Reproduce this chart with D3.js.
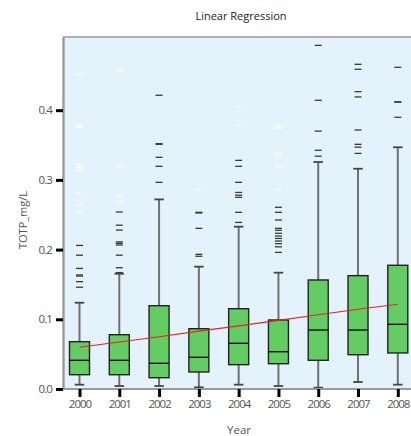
<!DOCTYPE html>
<html>
<head>
<meta charset="utf-8">
<script src="https://cdn.jsdelivr.net/npm/d3@7"></script>
<style>
  html, body { margin: 0; padding: 0; background: #fff; }
  svg { display: block; }
  text { font-family: "Open Sans", "Noto Sans", sans-serif; }
</style>
</head>
<body>
<svg id="chart" width="411" height="436"></svg>
<script>
// Annual TOTP concentration summaries (mg/L)
const years = ["2000", "2001", "2002", "2003", "2004", "2005", "2006", "2007", "2008"];
const whiskerLow  = [0.0062, 0.0043, 0.0043, 0.0024, 0.0062, 0.0043, 0.0019, 0.0100, 0.0062];
const quartile1   = [0.0205, 0.0205, 0.0162, 0.0244, 0.0349, 0.0363, 0.0412, 0.0492, 0.0517];
const medians     = [0.0412, 0.0412, 0.0369, 0.0455, 0.0656, 0.0535, 0.0846, 0.0846, 0.0928];
const quartile3   = [0.0679, 0.0779, 0.1195, 0.0865, 0.1152, 0.0990, 0.1564, 0.1626, 0.1775];
const whiskerHigh = [0.1238, 0.1654, 0.2720, 0.1755, 0.2329, 0.1669, 0.3257, 0.3160, 0.3468];

// Outliers beyond the whiskers
const outliers = [
  [0.206, 0.192, 0.173, 0.1636, 0.162, 0.154, 0.146],
  [0.254, 0.235, 0.228, 0.211, 0.209, 0.2066, 0.192, 0.174, 0.167],
  [0.4214, 0.352, 0.351, 0.3324, 0.3195, 0.2965],
  [0.2535, 0.2525, 0.2305, 0.1932, 0.1904],
  [0.328, 0.3195, 0.2965, 0.282, 0.278, 0.275, 0.2535, 0.239],
  [0.2607, 0.2535, 0.2425, 0.2305, 0.2277, 0.2234, 0.2195, 0.216, 0.2123, 0.2085, 0.204, 0.196],
  [0.493, 0.4142, 0.370, 0.3425, 0.334],
  [0.4658, 0.4587, 0.4266, 0.419, 0.3716, 0.351, 0.347, 0.338],
  [0.4615, 0.412, 0.4115, 0.3898]
];

// Extreme values, drawn as pale marks
const extremes = [
  [0.4515, 0.378, 0.376, 0.322, 0.318, 0.314, 0.282, 0.264, 0.254],
  [0.4596, 0.4567, 0.320, 0.277, 0.269],
  [],
  [0.2865],
  [0.404, 0.378],
  [0.3773, 0.374, 0.338, 0.334, 0.319, 0.2865],
  [],
  [],
  []
];

// Fitted linear trend at each year
const trend = [0.0598, 0.0674, 0.0750, 0.0830, 0.0905, 0.0985, 0.1065, 0.1143, 0.1215];

const yTicks = [0, 0.1, 0.2, 0.3, 0.4];

const plot = { left: 63, top: 37, right: 420, bottom: 389 };

const svg = d3.select("#chart");

const x = d3.scalePoint().domain(years).range([79.5, 397.8]);
const y = d3.scaleLinear().domain([0, 0.505]).range([plot.bottom, plot.top]);

// Plot background
svg.append("rect")
  .attr("x", plot.left).attr("y", plot.top)
  .attr("width", plot.right - plot.left).attr("height", plot.bottom - plot.top)
  .attr("fill", "#e4f2fb");

// Frame: top border and left/bottom axis lines
svg.append("line")
  .attr("x1", plot.left).attr("x2", plot.right)
  .attr("y1", plot.top).attr("y2", plot.top)
  .attr("stroke", "#9a9a9a").attr("stroke-width", 1.6);

const rows = years.map((yr, i) => ({
  year: yr, lo: whiskerLow[i], q1: quartile1[i], med: medians[i],
  q3: quartile3[i], hi: whiskerHigh[i], out: outliers[i], ext: extremes[i]
}));

const boxW = 20, capW = 9.5, dashW = 7;

const g = svg.append("g");

// Pale extreme marks
rows.forEach(d => {
  g.selectAll(null).data(d.ext).enter().append("line")
    .attr("x1", x(d.year) - dashW / 2).attr("x2", x(d.year) + dashW / 2)
    .attr("y1", v => y(v)).attr("y2", v => y(v))
    .attr("stroke", "#ffffff").attr("stroke-width", 1.2);
});

// Outlier marks
rows.forEach(d => {
  g.selectAll(null).data(d.out).enter().append("line")
    .attr("x1", x(d.year) - dashW / 2).attr("x2", x(d.year) + dashW / 2)
    .attr("y1", v => y(v)).attr("y2", v => y(v))
    .attr("stroke", "#3a3a3a").attr("stroke-width", 1.3);
});

const box = g.selectAll("g.box").data(rows).enter().append("g").attr("class", "box");

// Whisker stems
box.append("line")
  .attr("x1", d => x(d.year)).attr("x2", d => x(d.year))
  .attr("y1", d => y(d.hi)).attr("y2", d => y(d.lo))
  .attr("stroke", "#707070").attr("stroke-width", 2);

// Whisker caps
box.append("line")
  .attr("x1", d => x(d.year) - capW / 2).attr("x2", d => x(d.year) + capW / 2)
  .attr("y1", d => y(d.hi)).attr("y2", d => y(d.hi))
  .attr("stroke", "#444").attr("stroke-width", 1.8);
box.append("line")
  .attr("x1", d => x(d.year) - capW / 2).attr("x2", d => x(d.year) + capW / 2)
  .attr("y1", d => y(d.lo)).attr("y2", d => y(d.lo))
  .attr("stroke", "#444").attr("stroke-width", 1.8);

// Interquartile boxes
box.append("rect")
  .attr("x", d => x(d.year) - boxW / 2)
  .attr("y", d => y(d.q3))
  .attr("width", boxW)
  .attr("height", d => y(d.q1) - y(d.q3))
  .attr("fill", "#63cc63")
  .attr("stroke", "#222").attr("stroke-width", 1.4);

// Medians
box.append("line")
  .attr("x1", d => x(d.year) - boxW / 2).attr("x2", d => x(d.year) + boxW / 2)
  .attr("y1", d => y(d.med)).attr("y2", d => y(d.med))
  .attr("stroke", "#111").attr("stroke-width", 1.4);

// Trend line
svg.append("path")
  .datum(trend)
  .attr("fill", "none")
  .attr("stroke", "#ee2020")
  .attr("stroke-width", 1.1)
  .attr("d", d3.line().x((v, i) => x(years[i])).y(v => y(v)));

// Y axis
const yAxis = svg.append("g")
  .attr("transform", `translate(${plot.left},0)`)
  .call(d3.axisLeft(y).tickValues(yTicks).tickFormat(d3.format(".1f")).tickSize(7).tickPadding(4).tickSizeOuter(0));
yAxis.select(".domain").attr("stroke", "#9a9a9a").attr("stroke-width", 2.4);
yAxis.selectAll(".tick line").attr("stroke", "#000").attr("stroke-width", 3);
yAxis.selectAll(".tick text")
  .attr("fill", "#555").style("font-size", "11.5px").style("letter-spacing", "-0.9px");

// X axis
const xAxis = svg.append("g")
  .attr("transform", `translate(0,${plot.bottom})`)
  .call(d3.axisBottom(x).tickSize(8).tickPadding(3).tickSizeOuter(0));
xAxis.select(".domain")
  .attr("d", `M${plot.left},0H${plot.right}`)
  .attr("stroke", "#9a9a9a").attr("stroke-width", 2.2);
xAxis.selectAll(".tick line").attr("stroke", "#000").attr("stroke-width", 3);
xAxis.selectAll(".tick text")
  .attr("fill", "#555").style("font-size", "11.5px").style("letter-spacing", "-1px");

// Titles
svg.append("text")
  .attr("x", 241).attr("y", 20)
  .attr("text-anchor", "middle")
  .attr("fill", "#222")
  .style("font-size", "11px")
  .text("Linear Regression");

svg.append("text")
  .attr("x", 239).attr("y", 434)
  .attr("text-anchor", "middle")
  .attr("fill", "#555")
  .style("font-size", "11.5px")
  .text("Year");

svg.append("text")
  .attr("transform", "translate(27,220) rotate(-90)")
  .attr("text-anchor", "middle")
  .attr("fill", "#555")
  .style("font-size", "11px")
  .text("TOTP_mg/L");
</script>
</body>
</html>
